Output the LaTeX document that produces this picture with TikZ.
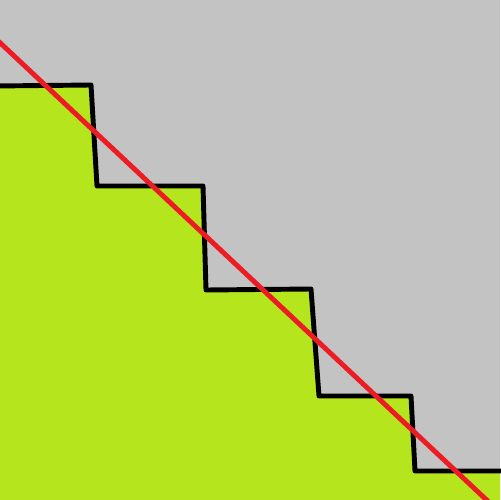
\documentclass[tikz,border=0pt]{standalone}
\usepackage{xcolor}
\usepackage{tikz}
\definecolor{bgGray}{HTML}{C3C3C3}
\definecolor{fillLime}{HTML}{B5E61D}
\definecolor{cutRed}{HTML}{ED1C24}

\begin{document}
\begin{tikzpicture}[
  x=0.02cm, y=-0.02cm,
  stair/.style={draw=black,line width=2.8pt,line join=round,line cap=round},
  cutline/.style={draw=cutRed,line width=2.8pt}
]
% ---- background ----
\fill[bgGray] (0,0) rectangle (500,500);
\useasboundingbox (0,0) rectangle (500,500);

% ---- staircase region ----
\fill[fillLime] (0,86) -- (91,85) -- (97,186) -- (203,186) -- (206,290)
  -- (311,289) -- (319,396) -- (411,396) -- (415,471) -- (500,471)
  -- (500,500) -- (0,500) -- cycle;
\draw[stair] (-5,86) -- (91,85) -- (97,186) -- (203,186) -- (206,290)
  -- (311,289) -- (319,396) -- (411,396) -- (415,471) -- (505,471);

% ---- diagonal ----
\draw[cutline] (-5,38) -- (493,506);
\end{tikzpicture}
\end{document}
